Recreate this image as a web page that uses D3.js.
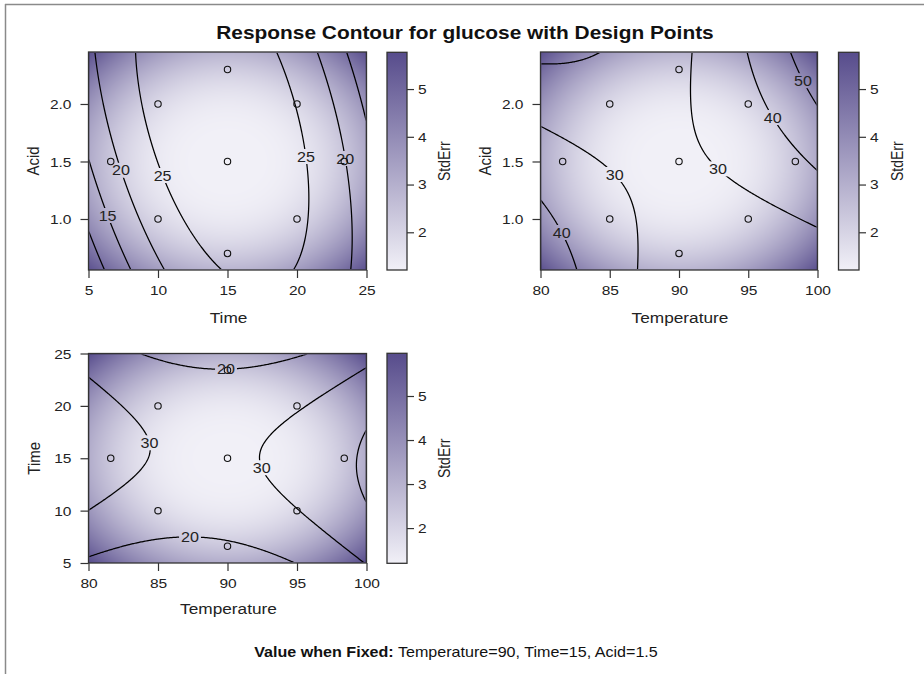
<!DOCTYPE html>
<html>
<head>
<meta charset="utf-8">
<script src="https://cdn.jsdelivr.net/npm/d3@7"></script>
<style>
  body { margin: 0; background: #fff; }
  svg { display: block; font-family: "Liberation Sans", Arial, sans-serif; }
</style>
</head>
<body>
<svg id="chart" width="924" height="674"></svg>
<script>
// ---------------------------------------------------------------------------
// Fitted second-order model for glucose, in coded units
//   T = (Temperature - 90) / 5,  t = (Time - 15) / 5,  A = (Acid - 1.5) / 0.5
// ---------------------------------------------------------------------------
const chartTitle   = "Response Contour for glucose with Design Points";
const factorNames  = ["Temperature", "Time", "Acid"];
const factorCenter = [90, 15, 1.5];
const factorStep   = [5, 5, 0.5];
const intercept    = 28.75;
const linearCoef   = [1.62, 0.42, 0.75];     // T, t, A
const quadCoef     = [2.38, -3.27, -0.585];  // T*T, t*t, A*A
const crossCoef    = [-0.70, 4.3, -1.28];    // T*t, T*A, t*A
// standard error of prediction vs. coded radius r: sqrt(c0 + c1 r^2 + c2 r^4)
const stdErrCoef   = [1.44, 0, 0.534];

// values held fixed for the factor not shown in a panel
const fixedValues  = [90, 15, 1.5];

// design runs (central composite design)
const designTemp = [85, 85, 85, 85, 95, 95, 95, 95, 81.6, 98.4, 90, 90, 90, 90, 90];
const designTime = [10, 10, 20, 20, 10, 10, 20, 20, 15, 15, 6.6, 23.4, 15, 15, 15];
const designAcid = [1, 2, 1, 2, 1, 2, 1, 2, 1.5, 1.5, 1.5, 1.5, 0.7, 2.3, 1.5];

// axis extents and ticks
const tempDomain = [80, 100];
const timeDomain = [5, 25];
const acidDomain = [0.5565, 2.452];
const tempTicks  = [80, 85, 90, 95, 100];
const timeTicks  = [5, 10, 15, 20, 25];
const acidTicks  = [1.0, 1.5, 2.0];
const stdErrTicks = [2, 3, 4, 5];

// contour levels per panel and label anchors [level, x value, y value]
const levelsTimeAcid = [10, 15, 20, 25];
const labelsTimeAcid = [[15, 6.22, 1.02], [20, 7.18, 1.42], [25, 10.06, 1.37], [25, 20.3, 1.54], [20, 23.0, 1.52]];
const levelsTempAcid = [20, 30, 40, 50];
const labelsTempAcid = [[30, 85.3, 1.38], [30, 92.7, 1.42], [40, 96.6, 1.87], [50, 98.8, 2.19], [40, 81.25, 0.87]];
const levelsTempTime = [20, 30, 40];
const labelsTempTime = [[20, 89.9, 23.18], [30, 84.2, 16.4], [30, 92.2, 14.0], [20, 87.3, 7.34]];

// colour legend ranges (StdErr)
const stdErrRangeTimeAcid = [1.21, 5.77];
const stdErrRangeTempAcid = [1.21, 5.77];
const stdErrRangeTempTime = [1.20, 5.97];

// ---------------------------------------------------------------------------
const svg = d3.select("#chart");
const defs = svg.append("defs");
const STRETCH = 1.15;          // horizontal widening of the text face
const INK = "#222";
const rampLow = "#f1f0f7", rampHigh = "#574c8c";

function glucose(c) {
  let y = intercept;
  for (let k = 0; k < 3; k++) y += linearCoef[k] * c[k] + quadCoef[k] * c[k] * c[k];
  y += crossCoef[0] * c[0] * c[1] + crossCoef[1] * c[0] * c[2] + crossCoef[2] * c[1] * c[2];
  return y;
}
function stdErr(c) {
  const r2 = c[0] * c[0] + c[1] * c[1] + c[2] * c[2];
  return Math.sqrt(stdErrCoef[0] + stdErrCoef[1] * r2 + stdErrCoef[2] * r2 * r2);
}
function codedPoint(xi, yi, xv, yv) {
  const raw = fixedValues.slice();
  raw[xi] = xv; raw[yi] = yv;
  return raw.map((v, k) => (v - factorCenter[k]) / factorStep[k]);
}

const designCols = [designTemp, designTime, designAcid];
const domains = [tempDomain, timeDomain, acidDomain];
const ticks = [tempTicks, timeTicks, acidTicks];
const tickFmt = [d3.format("d"), d3.format("d"), d3.format(".1f")];

// outer frame
svg.append("line").attr("x1", 5).attr("y1", 4.5).attr("x2", 924).attr("y2", 4.5)
  .attr("stroke", "#8a8a8a").attr("stroke-width", 1.5);
svg.append("line").attr("x1", 5.5).attr("y1", 4).attr("x2", 5.5).attr("y2", 674)
  .attr("stroke", "#8a8a8a").attr("stroke-width", 1.5);

// title
svg.append("text")
  .attr("transform", `translate(465,39) scale(1.16,1)`)
  .attr("text-anchor", "middle")
  .style("font-size", "18px").style("font-weight", "bold").attr("fill", "#111")
  .text(chartTitle);

const panels = [
  { xi: 1, yi: 2, levels: levelsTimeAcid, labels: labelsTimeAcid, seRange: stdErrRangeTimeAcid,
    box: [88.5, 52, 366.5, 270], bar: [387, 52.3, 407, 270], yTitleX: 33, barTitleX: 444, xTitleY: 323 },
  { xi: 0, yi: 2, levels: levelsTempAcid, labels: labelsTempAcid, seRange: stdErrRangeTempAcid,
    box: [540.5, 52, 817.5, 270], bar: [838.5, 52.3, 859, 270], yTitleX: 485, barTitleX: 897, xTitleY: 323 },
  { xi: 0, yi: 1, levels: levelsTempTime, labels: labelsTempTime, seRange: stdErrRangeTempTime,
    box: [88.5, 353.5, 366.5, 563], bar: [387, 353.3, 407, 563.3], yTitleX: 34, barTitleX: 444, xTitleY: 614 }
];

panels.forEach((p, pi) => {
  const [x0, y0, x1, y1] = p.box;
  const w = x1 - x0, h = y1 - y0;
  const xs = d3.scaleLinear().domain(domains[p.xi]).range([x0, x1]);
  const ys = d3.scaleLinear().domain(domains[p.yi]).range([y1, y0]);
  const color = d3.scaleLinear().domain(p.seRange).range([rampLow, rampHigh])
    .interpolate(d3.interpolateRgb).clamp(true);

  // StdErr shading, one sample per pixel
  const cw = Math.round(w), ch = Math.round(h);
  const canvas = document.createElement("canvas");
  canvas.width = cw; canvas.height = ch;
  const ctx = canvas.getContext("2d");
  const img = ctx.createImageData(cw, ch);
  for (let j = 0; j < ch; j++) {
    const yv = ys.invert(y0 + (j + 0.5) * h / ch);
    for (let i = 0; i < cw; i++) {
      const xv = xs.invert(x0 + (i + 0.5) * w / cw);
      const c = d3.rgb(color(stdErr(codedPoint(p.xi, p.yi, xv, yv))));
      const o = (j * cw + i) * 4;
      img.data[o] = c.r; img.data[o + 1] = c.g; img.data[o + 2] = c.b; img.data[o + 3] = 255;
    }
  }
  ctx.putImageData(img, 0, 0);
  svg.append("image").attr("x", x0).attr("y", y0).attr("width", w).attr("height", h)
    .attr("preserveAspectRatio", "none").attr("href", canvas.toDataURL());

  // predicted glucose on a grid, contoured
  const nx = cw, ny = ch;
  const grid = new Float64Array(nx * ny);
  for (let j = 0; j < ny; j++) {
    const yv = ys.invert(y0 + (j + 0.5) * h / ny);
    for (let i = 0; i < nx; i++) {
      const xv = xs.invert(x0 + (i + 0.5) * w / nx);
      grid[j * nx + i] = glucose(codedPoint(p.xi, p.yi, xv, yv));
    }
  }
  const contours = d3.contours().size([nx, ny]).thresholds(p.levels)(grid);
  const toPx = (x, y) => [x0 + x * w / nx, y0 + y * h / ny];
  const path = d3.geoPath(d3.geoTransform({
    point(x, y) { const q = toPx(x, y); this.stream.point(q[0], q[1]); }
  }));

  // labels snapped to the nearest point of their contour
  const labelG = svg.append("g");
  const gaps = [];
  p.labels.forEach(([lev, xv, yv]) => {
    const tx = xs(xv), ty = ys(yv);
    const cont = contours.find(c => c.value === lev);
    let best = [tx, ty], bd = Infinity;
    if (cont) cont.coordinates.forEach(poly => poly.forEach(ring => ring.forEach(([cx, cy]) => {
      const q = toPx(cx, cy);
      if (q[0] < x0 + 2 || q[0] > x1 - 2 || q[1] < y0 + 2 || q[1] > y1 - 2) return;
      const d = (q[0] - tx) ** 2 + (q[1] - ty) ** 2;
      if (d < bd) { bd = d; best = q; }
    })));
    const t = labelG.append("text")
      .attr("transform", `translate(${best[0]},${best[1]}) scale(${STRETCH},1)`)
      .attr("text-anchor", "middle").attr("dy", "0.36em")
      .style("font-size", "14px").attr("fill", INK)
      .text(lev);
    const bw = t.node().getComputedTextLength() * STRETCH;
    gaps.push([best[0] - bw / 2 - 2, best[1] - 7.5, bw + 4, 15]);
  });

  const mask = defs.append("mask").attr("id", "gap" + pi)
    .attr("maskUnits", "userSpaceOnUse").attr("x", 0).attr("y", 0).attr("width", 924).attr("height", 674);
  mask.append("rect").attr("x", 0).attr("y", 0).attr("width", 924).attr("height", 674).attr("fill", "#fff");
  gaps.forEach(g => mask.append("rect").attr("x", g[0]).attr("y", g[1]).attr("width", g[2]).attr("height", g[3]).attr("fill", "#000"));

  defs.append("clipPath").attr("id", "clip" + pi).append("rect")
    .attr("x", x0 + 0.9).attr("y", y0 + 0.9).attr("width", w - 1.8).attr("height", h - 1.8);

  svg.insert("g", () => labelG.node())
    .attr("clip-path", `url(#clip${pi})`)
    .append("g").attr("mask", `url(#gap${pi})`)
    .selectAll("path").data(contours).join("path")
    .attr("d", path).attr("fill", "none").attr("stroke", "#000").attr("stroke-width", 1.25)
    .attr("stroke-linejoin", "round");

  // design points projected onto the panel (coincident projections drawn once)
  const projected = Array.from(
    d3.group(d3.range(designTemp.length), i => designCols[p.xi][i] + "|" + designCols[p.yi][i]).values(),
    g => g[0]);
  svg.append("g").selectAll("circle").data(projected).join("circle")
    .attr("cx", i => xs(designCols[p.xi][i])).attr("cy", i => ys(designCols[p.yi][i]))
    .attr("r", 3.2).attr("fill", "none").attr("stroke", "#111").attr("stroke-width", 1.1);

  // frame
  svg.append("rect").attr("x", x0).attr("y", y0).attr("width", w).attr("height", h)
    .attr("fill", "none").attr("stroke", "#333").attr("stroke-width", 1.3);

  // axes
  const xAxis = svg.append("g").attr("transform", `translate(0,${y1})`)
    .call(d3.axisBottom(xs).tickValues(ticks[p.xi]).tickFormat(tickFmt[p.xi]).tickSize(8).tickSizeOuter(0));
  const yAxis = svg.append("g").attr("transform", `translate(${x0},0)`)
    .call(d3.axisLeft(ys).tickValues(ticks[p.yi]).tickFormat(tickFmt[p.yi]).tickSize(8).tickSizeOuter(0));
  [xAxis, yAxis].forEach(a => {
    a.select(".domain").remove();
    a.selectAll(".tick line").attr("stroke", "#333").attr("stroke-width", 1.2);
    a.selectAll(".tick text").attr("fill", INK).style("font-size", "13.5px").style("font-family", null);
  });
  xAxis.selectAll(".tick text").attr("y", 0).attr("dy", "0.71em")
    .attr("transform", `translate(0,15) scale(${STRETCH},1)`);
  yAxis.selectAll(".tick text").attr("x", 0).attr("dy", "0.34em")
    .attr("transform", `translate(-17,0) scale(${STRETCH},1)`);

  // axis titles
  svg.append("text")
    .attr("transform", `translate(${(x0 + x1) / 2 + 1},${p.xTitleY}) scale(${STRETCH},1)`)
    .attr("text-anchor", "middle").style("font-size", "15px").attr("fill", INK)
    .text(factorNames[p.xi]);
  svg.append("text")
    .attr("transform", `translate(${p.yTitleX},${(y0 + y1) / 2}) rotate(-90) scale(1,${STRETCH})`)
    .attr("text-anchor", "middle").attr("dy", "0.36em").style("font-size", "15px").attr("fill", INK)
    .text(factorNames[p.yi]);

  // StdErr colour legend
  const [bx0, by0, bx1, by1] = p.bar;
  const gid = "ramp" + pi;
  const grad = defs.append("linearGradient").attr("id", gid)
    .attr("x1", 0).attr("y1", 1).attr("x2", 0).attr("y2", 0);
  grad.append("stop").attr("offset", 0).attr("stop-color", color(p.seRange[0]));
  grad.append("stop").attr("offset", 1).attr("stop-color", color(p.seRange[1]));
  svg.append("rect").attr("x", bx0).attr("y", by0).attr("width", bx1 - bx0).attr("height", by1 - by0)
    .attr("fill", `url(#${gid})`).attr("stroke", "#333").attr("stroke-width", 1.3);
  const bs = d3.scaleLinear().domain(p.seRange).range([by1, by0]);
  const bAxis = svg.append("g").attr("transform", `translate(${bx1},0)`)
    .call(d3.axisRight(bs).tickValues(stdErrTicks).tickFormat(d3.format("d")).tickSize(7).tickSizeOuter(0));
  bAxis.select(".domain").remove();
  bAxis.selectAll(".tick line").attr("stroke", "#333").attr("stroke-width", 1.2);
  bAxis.selectAll(".tick text").attr("fill", INK).style("font-size", "13.5px").style("font-family", null)
    .attr("x", 0).attr("text-anchor", "start")
    .attr("transform", `translate(11,0) scale(${STRETCH},1)`);
  svg.append("text")
    .attr("transform", `translate(${p.barTitleX},${(by0 + by1) / 2}) rotate(-90) scale(1,${STRETCH})`)
    .attr("text-anchor", "middle").attr("dy", "0.36em").style("font-size", "14px").attr("fill", INK)
    .text("StdErr");
});

// footnote with the fixed settings
const foot = svg.append("text")
  .attr("transform", `translate(456,657) scale(${STRETCH},1)`)
  .attr("text-anchor", "middle").style("font-size", "14px").attr("fill", "#111");
foot.append("tspan").style("font-weight", "bold").text("Value when Fixed:");
foot.append("tspan").text(" " + factorNames.map((n, k) => `${n}=${fixedValues[k]}`).join(", "));
</script>
</body>
</html>
